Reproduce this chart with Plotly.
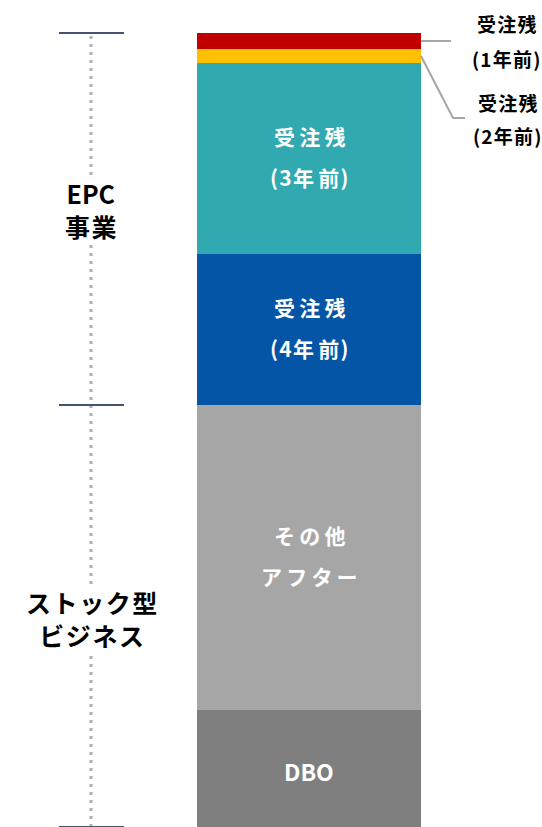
import plotly.graph_objects as go

# ---- data (bottom -> top) ----
segments = ["DBO", "その他アフター", "受注残(4年前)", "受注残(3年前)", "受注残(2年前)", "受注残(1年前)"]
values = [117, 305, 151, 191, 14, 16]
colors = ["#7F7F7F", "#A6A6A6", "#0455A5", "#31A9B0", "#FFC000", "#C00000"]
inner_lines = [["DBO"], ["その他", "アフター"], ["受注残", "(4年前)"], ["受注残", "(3年前)"], None, None]
group_labels = [["ストック型", "ビジネス"], ["EPC", "事業"]]
group_sizes = [2, 4]  # number of segments per group (bottom group first)

W, H = 542, 827
BAR_X, BAR_W = 309, 224
FONT = "Noto Sans CJK JP"


def sp(s, wide="\u2009", narrow="\u200a"):
    out = ""
    for i, c in enumerate(s):
        if i:
            prev = s[i - 1]
            out += wide if (not prev.isascii() and not c.isascii()) else narrow
        out += c
    return out


fig = go.Figure()
base = 0
mids = []
for name, v, c in zip(segments, values, colors):
    fig.add_trace(go.Bar(x=[BAR_X], y=[v], base=[base], width=BAR_W, marker=dict(color=c, line=dict(width=0)),
                         name=name, showlegend=False, hoverinfo="skip"))
    mids.append(base + v / 2)
    base += v
total = base

annotations = []
for lines, m in zip(inner_lines, mids):
    if not lines:
        continue
    shifts = [-2] if len(lines) == 1 else [23, -18]
    for t, s in zip(lines, shifts):
        if t.isascii():
            txt, size = t, 23
        else:
            txt, size = sp(t), 21
        annotations.append(dict(x=BAR_X, y=m, yshift=s, text="<b>" + txt + "</b>", showarrow=False,
                                font=dict(family=FONT, size=size, color="white")))

# left group brackets
LX = 91
bounds = [0]
idx = 0
for g in group_sizes:
    idx += g
    bounds.append(sum(values[:idx]))
gshift = [-2, 10]
gaps = []
for i, lines in enumerate(group_labels):
    m = (bounds[i] + bounds[i + 1]) / 2
    txt = "<br>".join("<b>" + (t if t.isascii() else sp(t, "\u200a", "\u200a")) + "</b>" for t in lines)
    annotations.append(dict(x=LX, y=m, yshift=gshift[i], text=txt, showarrow=False,
                            font=dict(family=FONT, size=25, color="black")))
    gaps.append((m + gshift[i] - 34, m + gshift[i] + 34))

shapes = []
y_start = 0
for g0, g1 in gaps:
    shapes.append(dict(type="line", x0=LX, x1=LX, y0=y_start, y1=g0, xref="x", yref="y",
                       line=dict(color="#B0B0B0", width=3, dash="3px,5px"), layer="below"))
    y_start = g1
shapes.append(dict(type="line", x0=LX, x1=LX, y0=y_start, y1=total, xref="x", yref="y",
                   line=dict(color="#B0B0B0", width=3, dash="3px,5px"), layer="below"))
for b in bounds:
    shapes.append(dict(type="line", x0=LX - 32, x1=LX + 33, y0=b, y1=b, xref="x", yref="y",
                       line=dict(color="#44546A", width=2)))

# right labels with leader lines
right_x = BAR_X + BAR_W / 2
m1 = mids[5]
m2 = mids[4]
shapes.append(dict(type="line", x0=right_x, x1=right_x + 30, y0=m1, y1=m1, xref="x", yref="y",
                   line=dict(color="#A6A6A6", width=2)))
shapes.append(dict(type="path", path=f"M {right_x},{m2} L {right_x+32},{m2-62} L {right_x+44},{m2-62}",
                   xref="x", yref="y", line=dict(color="#A6A6A6", width=2)))
for t, s in zip(["受注残", "(1年前)"], [18, -17]):
    annotations.append(dict(x=506, y=m1, yshift=s, text="<b>" + sp(t, "\u200a", "\u200a") + "</b>", showarrow=False,
                            font=dict(family=FONT, size=19, color="black")))
for t, s in zip(["受注残", "(2年前)"], [-46, -79]):
    annotations.append(dict(x=507, y=m2, yshift=s, text="<b>" + sp(t, "\u200a", "\u200a") + "</b>", showarrow=False,
                            font=dict(family=FONT, size=19, color="black")))

fig.update_layout(
    width=W, height=H, margin=dict(l=0, r=0, t=0, b=0),
    plot_bgcolor="white", paper_bgcolor="white",
    xaxis=dict(range=[0, W], visible=False, fixedrange=True),
    yaxis=dict(range=[0, H], visible=False, fixedrange=True),
    barmode="overlay", shapes=shapes, annotations=annotations,
)
fig.write_html("out.html", config={"displayModeBar": False},
               post_script="document.body.style.margin='0';document.body.style.overflow='hidden';")
